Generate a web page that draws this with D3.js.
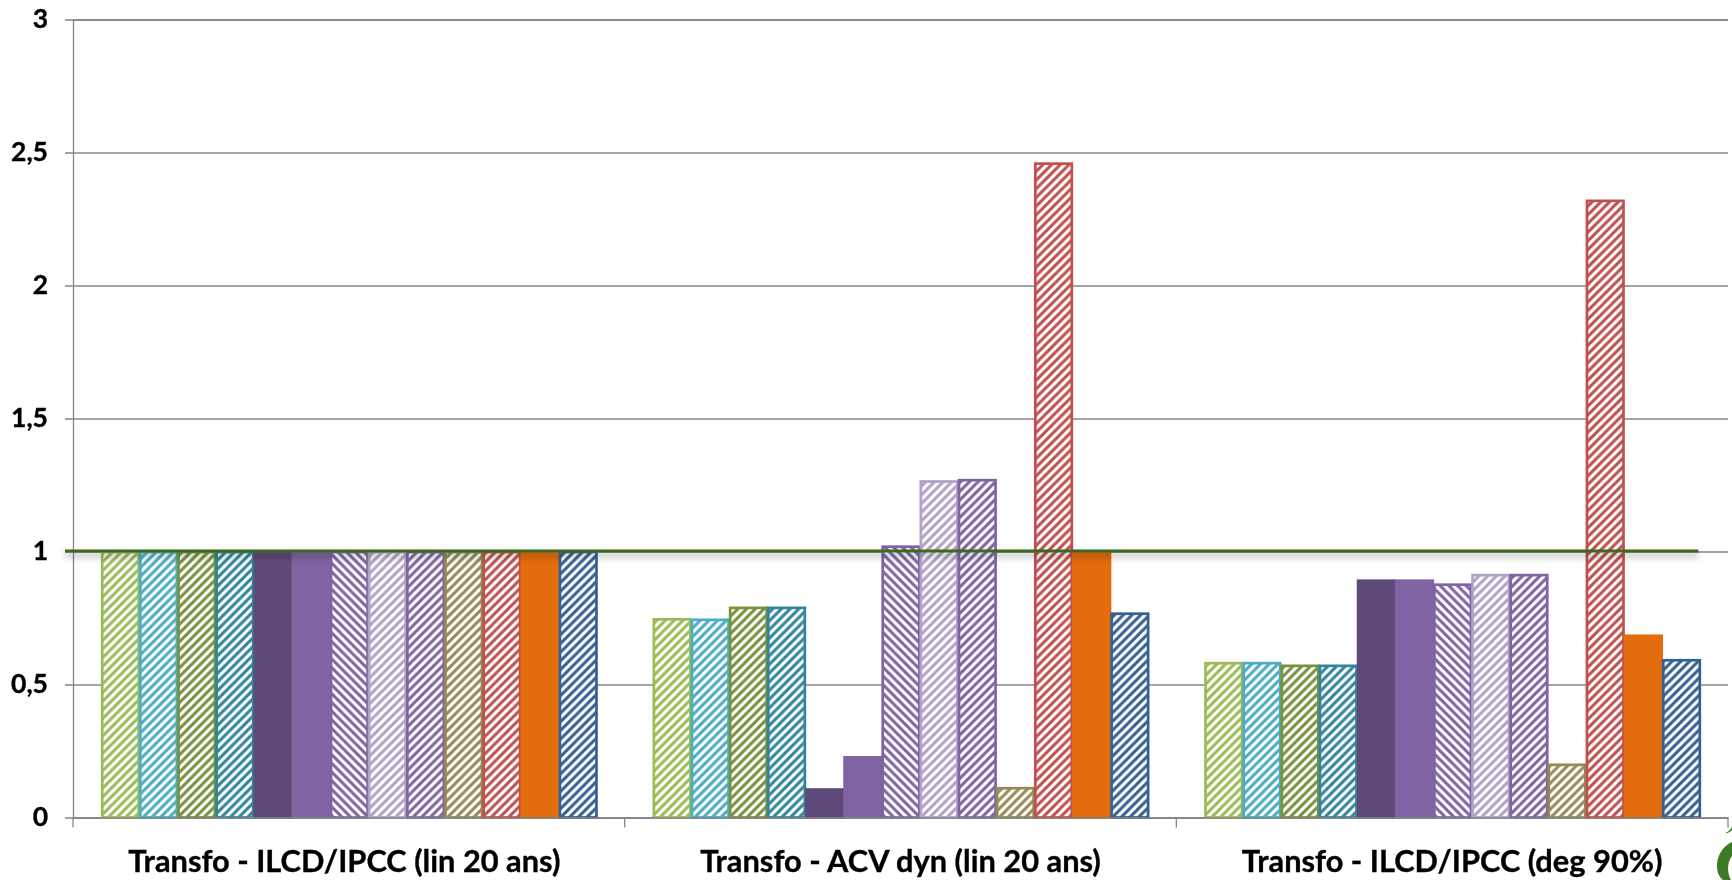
<!DOCTYPE html>
<html lang="fr">
<head>
    <meta charset="UTF-8">
    <title>Transfo</title>
    <script src="https://d3js.org/d3.v7.min.js"></script>
    <style>
        html, body { margin: 0; padding: 0; background: white; overflow: hidden; }
        svg { display: block; }
        text { font-family: Lato, "Open Sans", sans-serif; font-weight: 700; fill: #000; stroke: #000; stroke-width: 0.35; }
        .domain, .tick line { stroke: #868686; stroke-width: 1.3; }
    </style>
</head>
<body>
<svg width="1732" height="880"></svg>

<script>
    const categories = ["Transfo - ILCD/IPCC (lin 20 ans)", "Transfo - ACV dyn (lin 20 ans)", "Transfo - ILCD/IPCC (deg 90%)"];
    const seriesIds = ["s1", "s2", "s3", "s4", "s5", "s6", "s7", "s8", "s9", "s10", "s11", "s12", "s13"];
    const seriesColors = ["#9bbb59", "#4bacc6", "#76923c", "#31859c", "#5f497a", "#8064a2", "#8064a2", "#b2a2c7", "#8064a2", "#948a54", "#c0504d", "#e36c09", "#366092"];
    // "up" / "down" = hatch direction, "solid" = plain fill
    const seriesFills = ["up", "up", "up", "up", "solid", "solid", "down", "up", "up", "up", "up", "solid", "up"];

    const valuesIlcdLin = [1, 1, 1, 1, 1, 1, 1, 1, 1, 1, 1, 1, 1];
    const valuesAcvDyn = [0.747, 0.745, 0.79, 0.79, 0.107, 0.228, 1.02, 1.265, 1.27, 0.112, 2.46, 1, 0.768];
    const valuesIlcdDeg = [0.582, 0.582, 0.572, 0.572, 0.892, 0.892, 0.877, 0.913, 0.913, 0.2, 2.32, 0.685, 0.593];
    const allValues = [valuesIlcdLin, valuesAcvDyn, valuesIlcdDeg];

    const yTicks = [0, 0.5, 1, 1.5, 2, 2.5, 3];
    const yTickLabels = ["0", "0,5", "1", "1,5", "2", "2,5", "3"];
    const refValue = 1;

    const svg = d3.select("svg");
    const plotLeft = 73, plotRight = 1728, plotTop = 19.5, plotBottom = 817.5;

    const x = d3.scaleBand().domain(categories).range([plotLeft, plotRight]);
    const xInner = d3.scaleBand().domain(seriesIds).range([28.2, x.bandwidth() - 27.6]);
    const y = d3.scaleLinear().domain([0, 3]).range([plotBottom, plotTop]);

    const defs = svg.append("defs");
    const hatchSize = 8.7;

    seriesIds.forEach(function(id, i) {
        if (seriesFills[i] === "solid") return;
        const p = defs.append("pattern")
                .attr("id", "hatch-" + id)
                .attr("patternUnits", "userSpaceOnUse")
                .attr("width", hatchSize)
                .attr("height", hatchSize);
        if (seriesFills[i] === "down") p.attr("patternTransform", "scale(-1,1)");
        p.append("rect").attr("width", hatchSize).attr("height", hatchSize).attr("fill", "white");
        p.append("path")
                .attr("d", d3.range(-1, 2).map(k => `M${-2 + k * hatchSize},${hatchSize + 2} L${hatchSize + 2 + k * hatchSize},-2`).join(" "))
                .attr("stroke", seriesColors[i])
                .attr("stroke-width", 3);
    });

    const soft = defs.append("filter").attr("id", "soft")
            .attr("filterUnits", "userSpaceOnUse")
            .attr("x", 0).attr("y", 0).attr("width", 1732).attr("height", 880);
    soft.append("feGaussianBlur").attr("stdDeviation", 0.45);

    const shadow = defs.append("filter").attr("id", "shadow")
            .attr("filterUnits", "userSpaceOnUse")
            .attr("x", 40).attr("y", 530).attr("width", 1692).attr("height", 50);
    shadow.append("feDropShadow")
            .attr("dx", 0).attr("dy", 4).attr("stdDeviation", 3.5)
            .attr("flood-color", "#000").attr("flood-opacity", 0.4);

    const chart = svg.append("g").attr("filter", "url(#soft)");

    // gridlines and value labels
    chart.append("g")
            .attr("transform", `translate(${plotLeft},0)`)
            .call(d3.axisLeft(y)
                    .tickValues(yTicks)
                    .tickSize(-(plotRight - plotLeft))
                    .tickFormat((d, i) => yTickLabels[i])
                    .tickPadding(25))
            .call(g => g.selectAll(".tick line").attr("x1", -8))
            .call(g => g.selectAll("text").attr("font-size", 26.5).attr("font-family", null));

    // bars
    const groups = chart.selectAll("g.cat")
            .data(categories)
            .enter()
            .append("g")
            .attr("class", "cat")
            .attr("transform", d => `translate(${x(d)},0)`);

    groups.selectAll("rect")
            .data((d, i) => allValues[i].map((v, k) => ({id: seriesIds[k], k: k, v: v})))
            .enter()
            .append("rect")
            .attr("x", d => xInner(d.id) + 1)
            .attr("y", d => y(d.v) + 0.5)
            .attr("width", xInner.bandwidth() - 1.6)
            .attr("height", d => y(0) - y(d.v) - 0.5)
            .attr("fill", d => seriesFills[d.k] === "solid" ? seriesColors[d.k] : `url(#hatch-${d.id})`)
            .attr("stroke", d => seriesColors[d.k])
            .attr("stroke-width", 2.7);

    // category axis
    chart.append("g")
            .attr("transform", `translate(0,${plotBottom})`)
            .call(d3.axisBottom(x).tickSize(0).tickPadding(33))
            .call(g => g.selectAll("text")
                    .attr("font-size", 30.8)
                    .attr("font-family", null)
                    .attr("dx", (d, i) => i === 0 ? -4.5 : 0))
            .call(g => g.selectAll("line.sep")
                    .data(categories.map(c => x(c)).concat(plotRight))
                    .enter()
                    .append("line")
                    .attr("class", "sep")
                    .attr("x1", d => d).attr("x2", d => d)
                    .attr("y1", 0).attr("y2", 10)
                    .attr("stroke", "#868686").attr("stroke-width", 1.3));

    // reference line at 1
    chart.append("line")
            .attr("x1", 65)
            .attr("x2", x(categories[2]) + xInner.range()[1] - 2)
            .attr("y1", y(refValue) - 0.5)
            .attr("y2", y(refValue) - 0.5)
            .attr("stroke", "#3b6a1f")
            .attr("stroke-width", 2.8)
            .attr("filter", "url(#shadow)");

    // corner logo, cut off by the page edge
    const logo = chart.append("g").attr("fill", "#3c7a26");
    logo.append("path").attr("d", "M1732,842 C1723,846 1717,855 1717,866 C1717,872 1719,877 1723,880 L1731,880 C1727,873 1727,862 1732,856 Z");
    logo.append("path").attr("d", "M1725,833 Q1729,832 1732,827 L1732,830 Q1729,834 1725,833 Z");
</script>

</body>
</html>
